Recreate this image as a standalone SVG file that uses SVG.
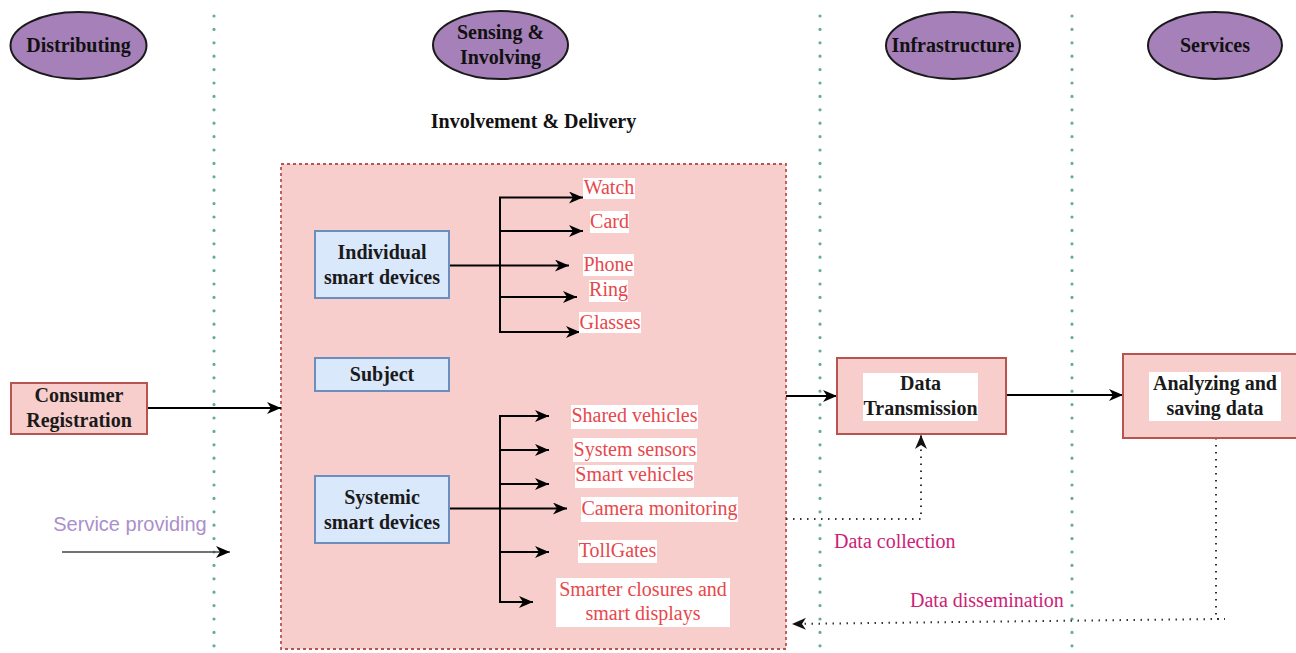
<svg xmlns="http://www.w3.org/2000/svg" width="1296" height="653" viewBox="0 0 1296 653">
  <defs>
    <marker id="arrow" viewBox="0 0 14 12" refX="14" refY="6" markerWidth="14" markerHeight="12" markerUnits="userSpaceOnUse" orient="auto">
      <path d="M0,0 L14,6 L0,12 L4,6 Z" fill="#000"/>
    </marker>
    <marker id="arrowDot" viewBox="0 0 14 12" refX="14" refY="6" markerWidth="14" markerHeight="12" markerUnits="userSpaceOnUse" orient="auto">
      <path d="M0,0 L14,6 L0,12 L4,6 Z" fill="#111"/>
    </marker>
  </defs>
  <style>
    .lane { stroke: #67ab9f; stroke-width: 3.2; stroke-dasharray: 0 13.4; stroke-linecap: round; fill: none; }
    .phase { fill: #a680b8; stroke: #1a1a1a; stroke-width: 2; }
    .phase-text { font-family: "Liberation Serif", serif; font-weight: bold; font-size: 20px; fill: #111; text-anchor: middle; }
    .title { font-family: "Liberation Serif", serif; font-weight: bold; font-size: 20px; fill: #111; text-anchor: middle; }
    .blue { fill: #dae8fc; stroke: #6c8ebf; stroke-width: 2; }
    .pink { fill: #f8cecc; stroke: #b85450; stroke-width: 2; }
    .zone { fill: #f8cecc; stroke: #b85450; stroke-width: 1.8; stroke-dasharray: 3 3; }
    .node-text { font-family: "Liberation Serif", serif; font-weight: bold; font-size: 20px; fill: #1a1a1a; text-anchor: middle; }
    .bg { fill: #fff; }
    .item { font-family: "Liberation Serif", serif; font-size: 20px; fill: #e8474c; text-anchor: middle; }
    .edge { stroke: #000; stroke-width: 2; fill: none; }
    .edge-a { stroke: #000; stroke-width: 2; fill: none; marker-end: url(#arrow); }
    .dotted { stroke: #333; stroke-width: 2; stroke-dasharray: 1.5 5.5; fill: none; marker-end: url(#arrowDot); }
    .flow-label { font-family: "Liberation Serif", serif; font-size: 20px; fill: #cc2277; }
    .svc-label { font-family: "Liberation Sans", sans-serif; font-size: 20px; fill: #ab8fcc; text-anchor: middle; }
  </style>

  <rect width="1296" height="653" fill="#fff"/>

  <!-- swimlane separators -->
  <g id="lanes">
    <line class="lane" x1="214" y1="16" x2="214" y2="653"/>
    <line class="lane" x1="820" y1="16" x2="820" y2="653"/>
    <line class="lane" x1="1072" y1="16" x2="1072" y2="653"/>
  </g>

  <!-- phase headers -->
  <g id="phase-distributing">
    <ellipse class="phase" cx="78.5" cy="45.5" rx="68" ry="33.5"/>
    <text class="phase-text" x="78.5" y="52">Distributing</text>
  </g>
  <g id="phase-sensing">
    <ellipse class="phase" cx="500.5" cy="45" rx="67.5" ry="34"/>
    <text class="phase-text" x="500.5" y="39">Sensing &amp;</text>
    <text class="phase-text" x="500.5" y="64">Involving</text>
  </g>
  <g id="phase-infrastructure">
    <ellipse class="phase" cx="953" cy="45.5" rx="67" ry="33.5"/>
    <text class="phase-text" x="953" y="52">Infrastructure</text>
  </g>
  <g id="phase-services">
    <ellipse class="phase" cx="1215" cy="45.5" rx="67" ry="33.5"/>
    <text class="phase-text" x="1215" y="52">Services</text>
  </g>

  <g id="title">
    <text class="title" x="533.5" y="128">Involvement &amp; Delivery</text>
  </g>

  <!-- delivery container -->
  <g id="delivery-zone">
    <rect class="zone" x="281" y="164" width="505" height="485"/>
  </g>

  <!-- connectors -->
  <g id="connectors">
    <!-- individual device tree -->
    <line class="edge" x1="449" y1="265.5" x2="500" y2="265.5"/>
    <line class="edge" x1="500" y1="197" x2="500" y2="332"/>
    <line class="edge-a" x1="499" y1="197.5" x2="583" y2="197.5"/>
    <line class="edge-a" x1="499" y1="231" x2="583" y2="231"/>
    <line class="edge-a" x1="500" y1="265.5" x2="569" y2="265.5"/>
    <line class="edge-a" x1="499" y1="297" x2="577" y2="297"/>
    <line class="edge-a" x1="499" y1="332" x2="580" y2="332"/>

    <!-- systemic device tree -->
    <line class="edge" x1="449" y1="508.5" x2="500" y2="508.5"/>
    <line class="edge" x1="500" y1="416" x2="500" y2="602"/>
    <line class="edge-a" x1="499" y1="416" x2="549" y2="416"/>
    <line class="edge-a" x1="499" y1="450" x2="549" y2="450"/>
    <line class="edge-a" x1="499" y1="484" x2="549" y2="484"/>
    <line class="edge-a" x1="500" y1="508.5" x2="567" y2="508.5"/>
    <line class="edge-a" x1="499" y1="552" x2="549" y2="552"/>
    <line class="edge-a" x1="499" y1="602" x2="533" y2="602"/>

    <!-- main flow -->
    <line class="edge-a" x1="147" y1="408" x2="281" y2="408"/>
    <line class="edge-a" x1="786" y1="396" x2="837" y2="396"/>
    <line class="edge-a" x1="1006" y1="395" x2="1123" y2="395"/>
    <line x1="62" y1="552" x2="230" y2="552" stroke="#444" stroke-width="1.5" marker-end="url(#arrow)"/>

    <!-- data collection / dissemination -->
    <polyline class="dotted" points="786,519 921,519 921,435"/>
    <polyline class="dotted" points="1216,438 1216,619 1225,619 1216,619 792,624"/>
  </g>

  <!-- source node -->
  <g id="consumer-registration">
    <rect class="pink" x="11" y="383" width="136" height="51"/>
    <text class="node-text" x="79" y="402">Consumer</text>
    <text class="node-text" x="79" y="427">Registration</text>
  </g>

  <g id="service-providing">
    <text class="svc-label" x="130" y="531">Service providing</text>
  </g>

  <!-- device groups -->
  <g id="individual-devices">
    <rect class="blue" x="315" y="231" width="134" height="67"/>
    <text class="node-text" x="382" y="259">Individual</text>
    <text class="node-text" x="382" y="284">smart devices</text>
  </g>
  <g id="subject">
    <rect class="blue" x="315" y="358" width="134" height="33"/>
    <text class="node-text" x="382" y="381">Subject</text>
  </g>
  <g id="systemic-devices">
    <rect class="blue" x="315" y="476" width="134" height="67"/>
    <text class="node-text" x="382" y="504">Systemic</text>
    <text class="node-text" x="382" y="529">smart devices</text>
  </g>

  <!-- individual device items -->
  <g id="item-watch">
    <rect class="bg" x="583" y="178" width="52" height="21"/>
    <text class="item" x="609" y="194">Watch</text>
  </g>
  <g id="item-card">
    <rect class="bg" x="590" y="211" width="39" height="22"/>
    <text class="item" x="609.5" y="228">Card</text>
  </g>
  <g id="item-phone">
    <rect class="bg" x="583" y="254" width="51" height="22"/>
    <text class="item" x="608.5" y="271">Phone</text>
  </g>
  <g id="item-ring">
    <rect class="bg" x="589" y="280" width="39" height="22"/>
    <text class="item" x="608.5" y="296">Ring</text>
  </g>
  <g id="item-glasses">
    <rect class="bg" x="579" y="312" width="62" height="21"/>
    <text class="item" x="610" y="329">Glasses</text>
  </g>

  <!-- systemic device items -->
  <g id="item-shared-vehicles">
    <rect class="bg" x="571" y="405" width="127" height="24"/>
    <text class="item" x="634.5" y="422">Shared vehicles</text>
  </g>
  <g id="item-system-sensors">
    <rect class="bg" x="573" y="438" width="124" height="24"/>
    <text class="item" x="635" y="456">System sensors</text>
  </g>
  <g id="item-smart-vehicles">
    <rect class="bg" x="575" y="465" width="119" height="23"/>
    <text class="item" x="634.5" y="481">Smart vehicles</text>
  </g>
  <g id="item-camera">
    <rect class="bg" x="581" y="497" width="157" height="25"/>
    <text class="item" x="659.5" y="515">Camera monitoring</text>
  </g>
  <g id="item-tollgates">
    <rect class="bg" x="578" y="540" width="79" height="23"/>
    <text class="item" x="617.5" y="557">TollGates</text>
  </g>
  <g id="item-closures">
    <rect class="bg" x="556" y="578" width="174" height="49"/>
    <text class="item" x="643" y="596">Smarter closures and</text>
    <text class="item" x="643" y="620">smart displays</text>
  </g>

  <!-- infrastructure / services -->
  <g id="data-transmission">
    <rect class="pink" x="837" y="358" width="169" height="76"/>
    <rect class="bg" x="863" y="373" width="115" height="48"/>
    <text class="node-text" x="920.5" y="390">Data</text>
    <text class="node-text" x="920.5" y="415">Transmission</text>
  </g>
  <g id="analyzing">
    <rect class="pink" x="1123" y="354" width="180" height="84"/>
    <rect class="bg" x="1149" y="372" width="132" height="49"/>
    <text class="node-text" x="1215" y="390">Analyzing and</text>
    <text class="node-text" x="1215" y="415">saving data</text>
  </g>

  <g id="flow-labels">
    <text class="flow-label" x="834" y="548">Data collection</text>
    <text class="flow-label" x="910" y="607">Data dissemination</text>
  </g>
</svg>
